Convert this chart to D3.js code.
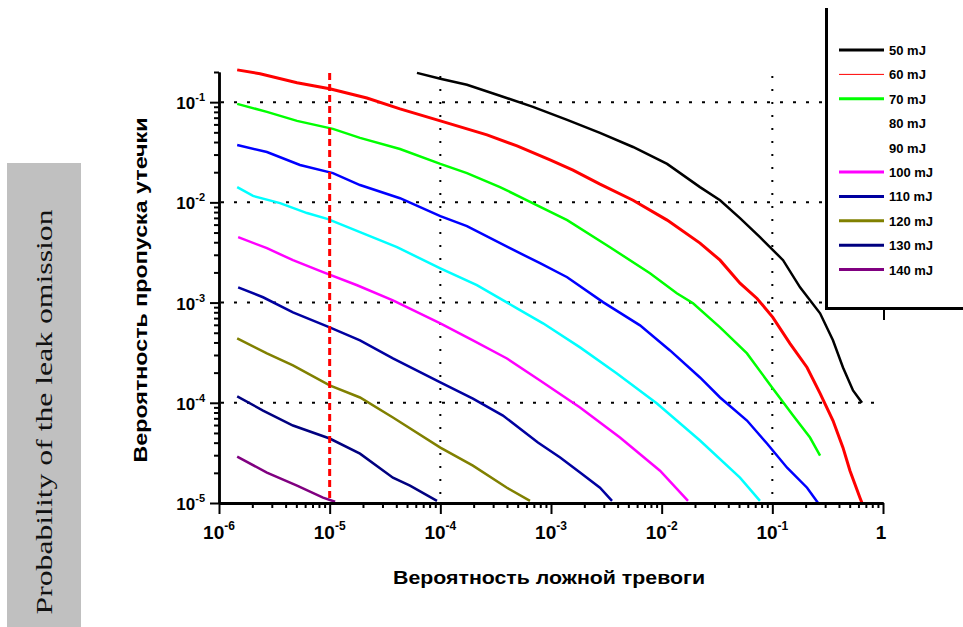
<!DOCTYPE html>
<html><head><meta charset="utf-8">
<script src="https://cdn.jsdelivr.net/npm/d3@7/dist/d3.min.js"></script>
<style>body{margin:0;background:#fff;overflow:hidden}</style>
</head><body>
<svg id="chart" width="963" height="627"></svg>
<script>
// ---------------- DATA ----------------
const seriesNames = ["50 mJ","60 mJ","70 mJ","80 mJ","90 mJ","100 mJ","110 mJ","120 mJ","130 mJ","140 mJ"];
const curveColors = ["#000000","#ff0000","#00ff00","#0000ff","#00ffff","#ff00ff","#0000a0","#808000","#000080","#800080"];
const legendColors = ["#000000","#ff0000","#00ff00",null,null,"#ff00ff","#0000a0","#808000","#000080","#800080"];
const legendWidths = [3,1,3,0,0,3,3,3,3,3];

const far50  = [6.15e-5,1.0e-4,1.74e-4,3.46e-4,6.87e-4,1.40e-3,2.77e-3,5.51e-3,1.12e-2,2.22e-2,3.37e-2,5.10e-2,7.73e-2,0.125,0.178,0.270,0.353,0.435,0.536,0.646];
const miss50 = [0.196,0.171,0.149,0.116,0.0897,0.0665,0.0493,0.0357,0.0242,0.0142,0.0105,0.00697,0.0045,0.00265,0.00142,0.000782,0.00042,0.000225,0.000133,1.0e-4];

const far60  = [1.46e-6,2.35e-6,5.07e-6,1.0e-5,2.17e-5,4.32e-5,1.0e-4,2.64e-4,4.93e-4,9.8e-4,1.58e-3,2.77e-3,5.51e-3,1.12e-2,2.22e-2,3.37e-2,5.10e-2,7.27e-2,0.101,0.144,0.206,0.270,0.353,0.435,0.503,0.619,0.646];
const miss60 = [0.210,0.192,0.156,0.136,0.110,0.0857,0.065,0.0471,0.0366,0.0265,0.021,0.0152,0.0105,0.00665,0.00392,0.00265,0.00156,0.0011,0.000713,0.000392,0.000225,0.000124,6.65e-5,3.57e-5,2.10e-5,1.13e-5,1.0e-5];

const far70  = [1.46e-6,2.71e-6,5.07e-6,1.07e-5,1.88e-5,4.32e-5,1.0e-4,1.74e-4,3.46e-4,6.07e-4,1.40e-3,3.41e-3,7.84e-3,1.37e-2,1.92e-2,3.37e-2,5.90e-2,0.101,0.154,0.219,0.270];
const miss70 = [0.0961,0.080,0.065,0.0541,0.044,0.0341,0.0242,0.0196,0.0142,0.0105,0.00665,0.00357,0.00196,0.00124,0.000984,0.000566,0.000311,0.000139,7.46e-5,4.5e-5,2.97e-5];

const far80  = [1.46e-6,2.71e-6,5.39e-6,1.07e-5,1.88e-5,4.32e-5,1.0e-4,1.74e-4,4.26e-4,7.96e-4,1.40e-3,2.95e-3,6.37e-3,1.19e-2,2.22e-2,3.37e-2,5.90e-2,8.95e-2,0.136,0.206,0.259];
const miss80 = [0.0374,0.0318,0.0236,0.0196,0.0149,0.011,0.00729,0.00579,0.00349,0.00247,0.00179,0.00101,0.000593,0.000333,0.000179,0.000113,6.65e-5,3.92e-5,2.25e-5,1.42e-5,1.0e-5];

const far90  = [1.46e-6,2.03e-6,3.56e-6,6.24e-6,9.66e-6,1.88e-5,4.06e-5,1.0e-4,2.14e-4,4.93e-4,8.47e-4,1.83e-3,3.94e-3,9.07e-3,2.22e-2,5.10e-2,7.73e-2];
const miss90 = [0.0142,0.0116,0.00984,0.00782,0.00681,0.00505,0.00357,0.0022,0.00149,0.000877,0.000621,0.000357,0.000196,9.84e-5,4.2e-5,1.79e-5,1.05e-5];

const far100  = [1.49e-6,2.71e-6,4.66e-6,8.71e-6,1.77e-5,3.73e-5,1.0e-4,1.97e-4,4.0e-4,7.96e-4,1.83e-3,4.2e-3,9.66e-3,1.73e-2];
const miss100 = [0.0045,0.00349,0.00265,0.00201,0.00149,0.00105,0.000621,0.00042,0.000277,0.000167,8.97e-5,4.5e-5,2.1e-5,1.05e-5];

const far110  = [1.49e-6,2.5e-6,4.66e-6,1.0e-5,1.88e-5,3.73e-5,1.0e-4,1.97e-4,3.68e-4,7.62e-4,1.21e-3,1.83e-3,2.77e-3,3.56e-3];
const miss110 = [0.00142,0.00113,0.0008,0.000566,0.00042,0.000277,0.00016,0.00011,7.46e-5,4.01e-5,2.84e-5,2.01e-5,1.42e-5,1.05e-5];

const far120  = [1.46e-6,2.71e-6,4.66e-6,1.0e-5,1.88e-5,3.73e-5,1.0e-4,1.97e-4,4.0e-4,6.46e-4];
const miss120 = [0.00044,0.000311,0.000236,0.000149,0.000113,7.13e-5,3.57e-5,2.36e-5,1.42e-5,1.05e-5];

const far130  = [1.46e-6,2.5e-6,4.66e-6,1.0e-5,1.88e-5,3.73e-5,5.32e-5,9.33e-5];
const miss130 = [0.000116,8.37e-5,5.93e-5,4.4e-5,3.11e-5,1.79e-5,1.49e-5,1.05e-5];

const far140  = [1.46e-6,2.71e-6,5.07e-6,8.71e-6,1.12e-5];
const miss140 = [2.9e-5,2.01e-5,1.49e-5,1.13e-5,1.03e-5];

const xTickExps = [-6,-5,-4,-3,-2,-1];
const yTickExps = [-1,-2,-3,-4,-5];
const xGridValues = [1e-4,1e-1];
const yGridValues = [1e-1,1e-2,1e-3,1e-4];
const thresholdFar = 1e-5;

const xTitle = "Вероятность ложной тревоги";
const yTitle = "Вероятность пропуска утечки";
const sideTitle = "Probability of the leak omission";

// ---------------- DRAW ----------------
const allFar  = [far50,far60,far70,far80,far90,far100,far110,far120,far130,far140];
const allMiss = [miss50,miss60,miss70,miss80,miss90,miss100,miss110,miss120,miss130,miss140];

const svg = d3.select("#chart");
const plot = {left:219, right:883, top:72, bottom:503};

const x = d3.scaleLog().domain([1e-6,1]).range([plot.left,plot.right]);
const y = d3.scaleLog().domain([1e-5,0.2]).range([plot.bottom,plot.top]);

// side gray box
svg.append("rect").attr("x",7).attr("y",163).attr("width",74).attr("height",470).attr("fill","#c0c0c0");
svg.append("text")
  .attr("transform","translate(52,412) rotate(-90)")
  .attr("text-anchor","middle")
  .attr("font-family","'Liberation Serif','DejaVu Serif',serif")
  .attr("font-size",24).attr("fill","#111")
  .attr("textLength",405).attr("lengthAdjust","spacingAndGlyphs")
  .text(sideTitle);

svg.append("defs").append("clipPath").attr("id","clip")
  .append("rect").attr("x",plot.left).attr("y",55).attr("width",plot.right-plot.left+5).attr("height",plot.bottom-55);

// grid
const grid = svg.append("g");
grid.selectAll(".hg").data(yGridValues).enter().append("line")
  .attr("x1",plot.left+2).attr("x2",plot.right)
  .attr("y1",d=>y(d)).attr("y2",d=>y(d))
  .attr("stroke","#000").attr("stroke-width",2).attr("stroke-dasharray","3,10");
grid.selectAll(".vg").data(xGridValues).enter().append("line")
  .attr("y1",plot.top+4).attr("y2",plot.bottom)
  .attr("x1",d=>x(d)).attr("x2",d=>x(d))
  .attr("stroke","#000").attr("stroke-width",2).attr("stroke-dasharray","2,11");

// curves
const line = d3.line().x(d=>x(d[0])).y(d=>y(d[1]));
const curves = svg.append("g").attr("clip-path","url(#clip)");
allFar.forEach((f,i)=>{
  const pts = f.map((v,j)=>[v,allMiss[i][j]]);
  curves.append("path").attr("d",line(pts))
    .attr("fill","none").attr("stroke",curveColors[i])
    .attr("stroke-width", i===1?3:2.5).attr("stroke-linejoin","miter");
});

// threshold line
svg.append("line").attr("x1",x(thresholdFar)).attr("x2",x(thresholdFar))
  .attr("y1",plot.top+1).attr("y2",plot.bottom)
  .attr("stroke","#ff0000").attr("stroke-width",3).attr("stroke-dasharray","7,4");

// axes
const xMajor = xTickExps.map(e=>Math.pow(10,e)).concat([1]);
const xMinor = [];
xTickExps.forEach(e=>{for(let k=2;k<=9;k++) xMinor.push(k*Math.pow(10,e));});
const yMinor = [];
[-5,-4,-3,-2].forEach(e=>{for(let k=2;k<=9;k++){const v=k*Math.pow(10,e); if(v<=0.2) yMinor.push(v);}});
yMinor.push(0.2);

const gx = svg.append("g").attr("transform",`translate(0,${plot.bottom})`);
gx.call(d3.axisBottom(x).tickValues(xMajor).tickSize(11).tickSizeOuter(0).tickFormat(""));
const gxm = svg.append("g").attr("transform",`translate(0,${plot.bottom})`);
gxm.call(d3.axisBottom(x).tickValues(xMinor).tickSize(5).tickSizeOuter(0).tickFormat(""));
[gx,gxm].forEach(g=>{g.selectAll("path").attr("stroke","#000").attr("stroke-width",3);
  g.selectAll("line").attr("stroke","#000").attr("stroke-width",2);});

const gy = svg.append("g").attr("transform",`translate(${plot.left},0)`);
gy.call(d3.axisLeft(y).tickValues(yTickExps.map(e=>Math.pow(10,e))).tickSize(9).tickSizeOuter(0).tickFormat(""));
const gym = svg.append("g").attr("transform",`translate(${plot.left},0)`);
gym.call(d3.axisLeft(y).tickValues(yMinor).tickSize(5).tickSizeOuter(0).tickFormat(""));
[gy,gym].forEach(g=>{g.selectAll("path").attr("stroke","#000").attr("stroke-width",2.5);
  g.selectAll("line").attr("stroke","#000").attr("stroke-width",2);});

const labelFont = "'Liberation Sans',Arial,sans-serif";
// x tick labels
xTickExps.forEach(e=>{
  const t = svg.append("text").attr("x",x(Math.pow(10,e))).attr("y",539)
    .attr("text-anchor","middle").attr("font-family",labelFont).attr("font-weight","bold")
    .attr("font-size",19).attr("fill","#000");
  t.append("tspan").text("10");
  t.append("tspan").attr("dy",-9).attr("font-size",12).text("-"+(-e));
});
svg.append("text").attr("x",x(1)-2).attr("y",539).attr("text-anchor","middle")
  .attr("font-family",labelFont).attr("font-weight","bold").attr("font-size",19).text("1");

// y tick labels
yTickExps.forEach(e=>{
  const t = svg.append("text").attr("x",205).attr("y",y(Math.pow(10,e))+7)
    .attr("text-anchor","end").attr("font-family",labelFont).attr("font-weight","bold")
    .attr("font-size",17).attr("fill","#000");
  t.append("tspan").text("10");
  t.append("tspan").attr("dy",-8).attr("font-size",11).text("-"+(-e));
});

// axis titles
svg.append("text").attr("x",549).attr("y",584).attr("text-anchor","middle")
  .attr("font-family",labelFont).attr("font-weight","bold").attr("font-size",18)
  .attr("textLength",312).attr("lengthAdjust","spacingAndGlyphs").text(xTitle);
svg.append("text").attr("transform","translate(147,290) rotate(-90)").attr("text-anchor","middle")
  .attr("font-family",labelFont).attr("font-weight","bold").attr("font-size",18)
  .attr("textLength",345).attr("lengthAdjust","spacingAndGlyphs").text(yTitle);

// legend
const lg = svg.append("g");
lg.append("rect").attr("x",826).attr("y",8).attr("width",137).attr("height",300).attr("fill","#fff");
lg.append("line").attr("x1",826.5).attr("x2",826.5).attr("y1",8).attr("y2",310).attr("stroke","#000").attr("stroke-width",3);
lg.append("line").attr("x1",825).attr("x2",963).attr("y1",308.5).attr("y2",308.5).attr("stroke","#000").attr("stroke-width",3);
lg.append("line").attr("x1",884).attr("x2",884).attr("y1",309).attr("y2",320).attr("stroke","#000").attr("stroke-width",2);
seriesNames.forEach((n,i)=>{
  const yy = 50 + i*24.4;
  if(legendColors[i]) lg.append("line").attr("x1",839).attr("x2",884).attr("y1",yy).attr("y2",yy)
      .attr("stroke",legendColors[i]).attr("stroke-width",legendWidths[i]);
  lg.append("text").attr("x",889).attr("y",yy+5).attr("font-family",labelFont).attr("font-weight","bold")
    .attr("font-size",13).attr("fill","#000").text(n);
});
</script>
</body></html>
